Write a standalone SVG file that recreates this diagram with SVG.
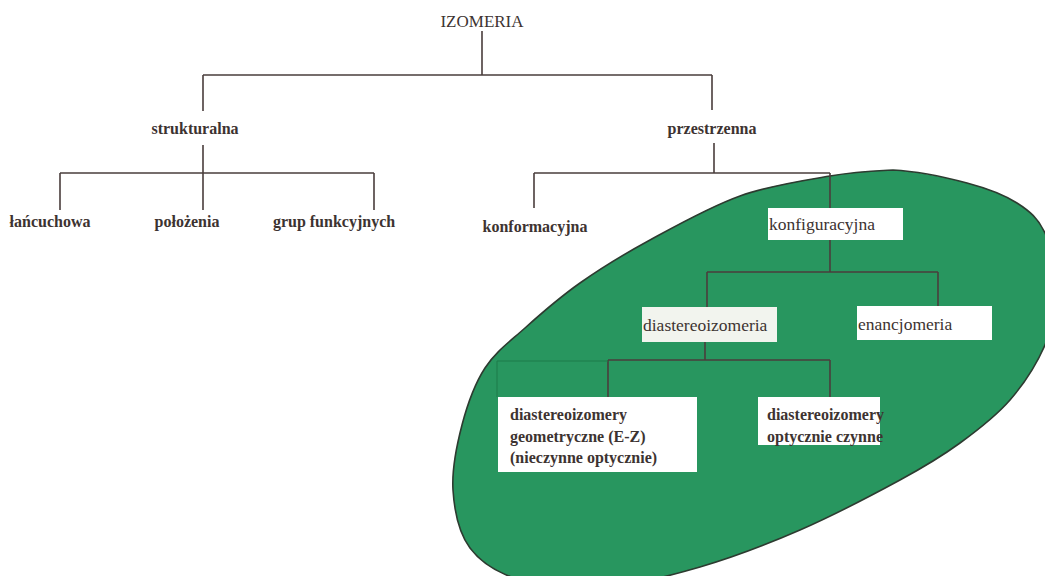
<svg xmlns="http://www.w3.org/2000/svg" width="1045" height="576" viewBox="0 0 1045 576">
<style>
.ln{stroke:#4a3e3c;stroke-width:1.6;fill:none}
.faint{stroke:#1d7a4a;stroke-width:1;fill:none}
.t{font-family:"Liberation Serif","Times New Roman",serif;fill:#3d3331}
.b{font-weight:bold;font-size:16px}
.r{font-size:17.5px}
.box{fill:#ffffff}
</style>
<rect width="1045" height="576" fill="#ffffff"/>
<g id="region">
<path fill="#28965f" stroke="#2d3b30" stroke-width="1.6" d="M893 170C915.8 171.2 946.3 177.5 967 183C987.7 188.5 1004 194.7 1017 203C1030 211.3 1038.2 218.5 1045 233C1051.8 247.5 1058 271.3 1058 290C1058 308.7 1053 326.7 1045 345C1037 363.3 1024.2 383.7 1010 400C995.8 416.3 978.3 429.7 960 443C941.7 456.3 926.7 465.5 900 480C873.3 494.5 833.3 515.5 800 530C766.7 544.5 733.3 557.3 700 567C666.7 576.7 630 585.8 600 588C570 590.2 541.7 586.7 520 580C498.3 573.3 481.2 563 470 548C458.8 533 454.3 510.5 453 490C451.7 469.5 456.7 445.3 462 425C467.3 404.7 474.5 384.2 485 368C495.5 351.8 509.2 342.2 525 328C540.8 313.8 559.2 297.7 580 283C600.8 268.3 623.3 254.5 650 240C676.7 225.5 710 206.7 740 196C770 185.3 804.5 180.3 830 176C855.5 171.7 870.2 171.2 893 170Z"/>
</g>
<g id="connectors">
<path class="ln" d="M482 31V75M203 75H712M203 75V111M712 75V110"/>
<path class="ln" d="M203 145V173M60 173H374M60 173V210M203 173V210M374 173V210"/>
<path class="ln" d="M714 143V173M534 173H830M534 173V208M830 173V272"/>
<path class="ln" d="M707 272H938M707 272V307M938 272V307"/>
<path class="ln" d="M705 342V360M608 360H830M608 360V397M830 360V397"/>
<path class="faint" d="M497 397V361H608"/>
</g>
<g id="izomeria"><text class="t" x="482" y="27" font-size="17" text-anchor="middle">IZOMERIA</text></g>
<g id="strukturalna"><text class="t b" x="195" y="134" text-anchor="middle">strukturalna</text></g>
<g id="przestrzenna"><text class="t b" x="712" y="134" text-anchor="middle">przestrzenna</text></g>
<g id="lancuchowa"><text class="t b" x="50" y="227" text-anchor="middle">łańcuchowa</text></g>
<g id="polozenia"><text class="t b" x="187" y="227" text-anchor="middle">położenia</text></g>
<g id="grup"><text class="t b" x="334" y="227" text-anchor="middle">grup funkcyjnych</text></g>
<g id="konformacyjna"><text class="t b" x="535" y="232" text-anchor="middle">konformacyjna</text></g>
<g id="konfiguracyjna"><rect class="box" x="768" y="208" width="135" height="32"/><text class="t r" x="769" y="230">konfiguracyjna</text></g>
<g id="diastereoizomeria"><rect x="642" y="307" width="135" height="35" fill="#f2f4ee"/><text class="t r" x="643" y="331">diastereoizomeria</text></g>
<g id="enancjomeria"><rect class="box" x="857" y="306" width="135" height="34"/><text class="t r" x="858" y="330">enancjomeria</text></g>
<g id="geometryczne"><rect class="box" x="498" y="397" width="199" height="75"/><text class="t b" x="510" y="420">diastereoizomery</text><text class="t b" x="510" y="442">geometryczne (E-Z)</text><text class="t b" x="510" y="463">(nieczynne optycznie)</text></g>
<g id="optyczne"><rect class="box" x="758" y="397" width="122" height="48"/><text class="t b" x="767" y="420">diastereoizomery</text><text class="t b" x="767" y="442">optycznie czynne</text></g>
</svg>
